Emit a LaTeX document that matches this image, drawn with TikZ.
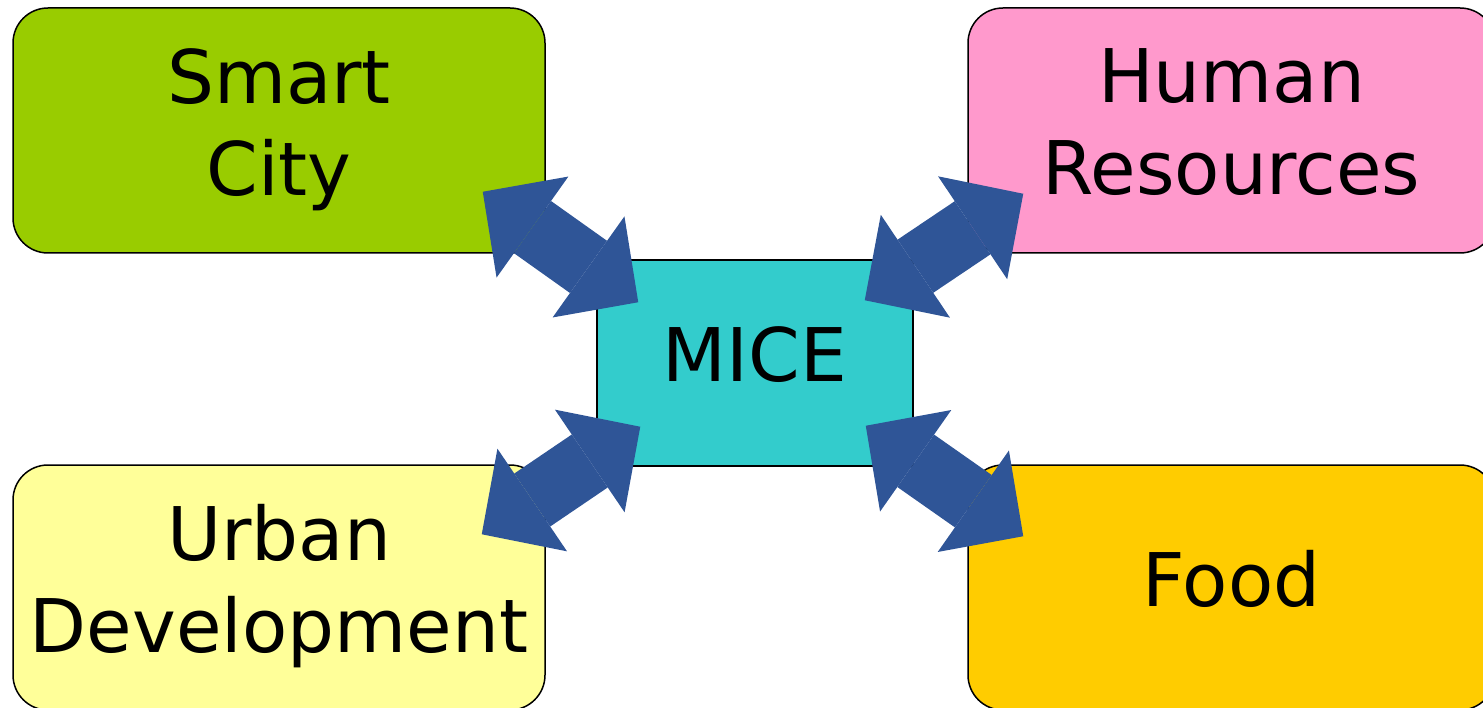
\documentclass[tikz,border=0pt]{standalone}
\usepackage{fontspec}
\setmainfont{DejaVu Sans}
\usepackage{tikz}
\definecolor{smartgreen}{RGB}{153,204,0}
\definecolor{hrpink}{RGB}{255,153,204}
\definecolor{udyellow}{RGB}{255,255,153}
\definecolor{foodgold}{RGB}{255,204,0}
\definecolor{miceteal}{RGB}{51,204,204}
\definecolor{arrowblue}{RGB}{47,85,151}
\usetikzlibrary{arrows.meta,calc}
\tikzset{
  boxnode/.style = {align=center, inner sep=0pt, text centered, draw=black,
    line width=1.5pt, font=\fontsize{74}{92}\selectfont, text depth=17.4pt},
  box_r/.style = {boxnode, rounded corners=35pt,
    minimum width=532pt, minimum height=245pt},% boite arrondie
  box_s/.style = {boxnode, minimum width=316pt, minimum height=206pt},% boite carree
  dbl/.style = {draw=arrowblue, line width=64pt,
    >={Triangle[length=61pt, width=124pt, line width=0pt]}, <->},% double fleche
}

\begin{document}
\begin{tikzpicture}[x=1pt,y=-1pt]
  \clip (0,0) rectangle (1483,708);
  \useasboundingbox (0,0) rectangle (1483,708);

  \node[box_r, fill=smartgreen] (sc) at (279,130.5) {Smart\\City};
  \node[box_r, fill=hrpink, minimum width=527pt] (hr) at (1231.5,130.5) {Human\\Resources};
  \node[box_r, fill=udyellow] (ud) at (279,587.5) {Urban\\Development};
  \node[box_r, fill=foodgold, minimum width=527pt] (fd) at (1231.5,587.5) {Food};

  \node[box_s, fill=miceteal] (mice) at (755,363) {MICE};

  %   arrow ends
  \coordinate (sc1) at ($(sc.south east)+(-63,-62)$);
  \coordinate (m1) at ($(mice.north west)+(42,43)$);
  \coordinate (hr1) at ($(hr.south west)+(56,-60)$);
  \coordinate (m2) at ($(mice.north east)+(-49,41)$);
  \coordinate (ud1) at ($(ud.north east)+(-64,70)$);
  \coordinate (m3) at ($(mice.south west)+(44,-40)$);
  \coordinate (fd1) at ($(fd.north west)+(56,72)$);
  \coordinate (m4) at ($(mice.south east)+(-48,-41)$);

  %   arrows
  \draw[dbl] (sc1) -- (m1);
  \draw[dbl] (hr1) -- (m2);
  \draw[dbl] (ud1) -- (m3);
  \draw[dbl] (fd1) -- (m4);
\end{tikzpicture}
\end{document}
